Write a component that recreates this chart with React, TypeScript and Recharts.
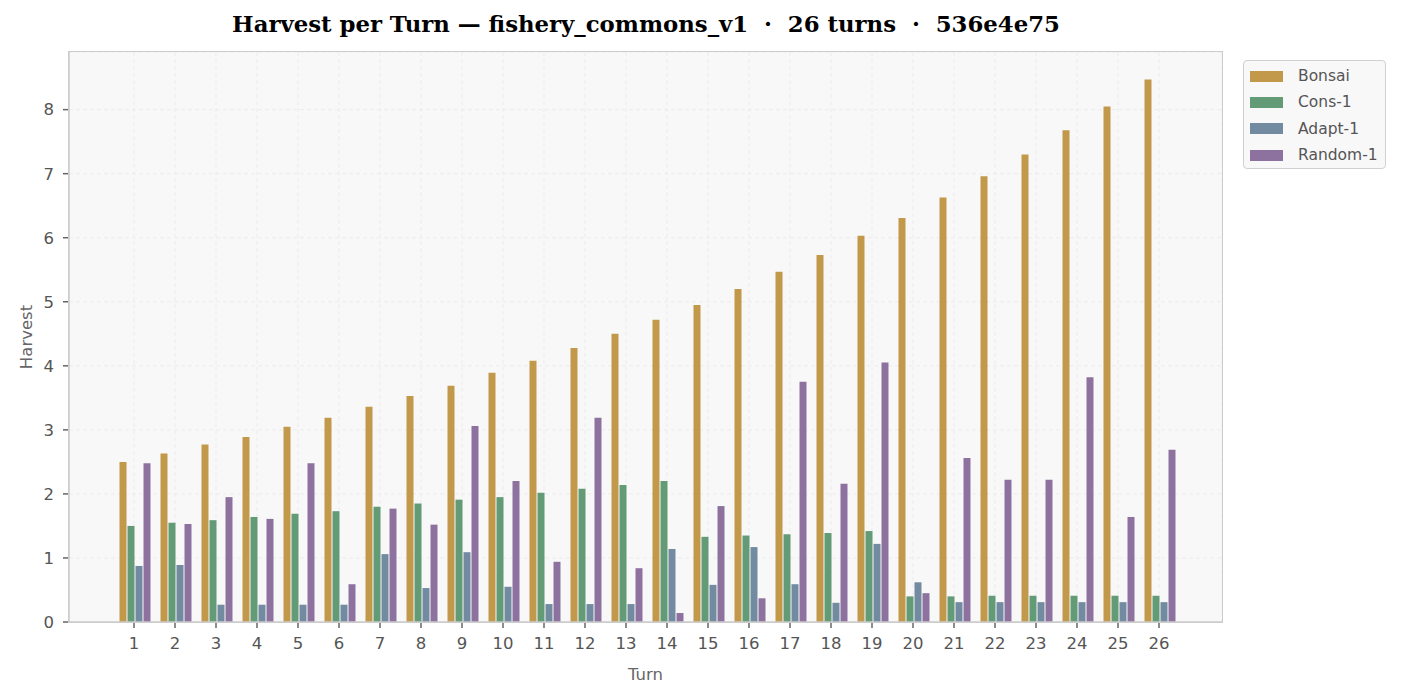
import { BarChart, Bar, XAxis, YAxis, CartesianGrid } from "recharts";

const turns = Array.from({ length: 26 }, (_, i) => String(i + 1));

const bonsai = [
  2.5, 2.63, 2.77, 2.89, 3.05, 3.19, 3.36, 3.53, 3.69, 3.89, 4.08, 4.28, 4.5,
  4.72, 4.95, 5.2, 5.47, 5.73, 6.03, 6.31, 6.63, 6.96, 7.3, 7.68, 8.05, 8.47,
];
const cons1 = [
  1.5, 1.55, 1.59, 1.64, 1.69, 1.73, 1.8, 1.85, 1.91, 1.95, 2.02, 2.08, 2.14,
  2.2, 1.33, 1.35, 1.37, 1.39, 1.42, 0.4, 0.4, 0.41, 0.41, 0.41, 0.41, 0.41,
];
const adapt1 = [
  0.875, 0.89, 0.27, 0.27, 0.27, 0.27, 1.06, 0.53, 1.09, 0.55, 0.28, 0.28, 0.28,
  1.14, 0.58, 1.17, 0.59, 0.3, 1.22, 0.62, 0.31, 0.31, 0.31, 0.31, 0.31, 0.31,
];
const random1 = [
  2.48, 1.53, 1.95, 1.61, 2.48, 0.59, 1.77, 1.52, 3.06, 2.2, 0.94, 3.19, 0.84,
  0.14, 1.81, 0.37, 3.75, 2.16, 4.05, 0.45, 2.56, 2.22, 2.22, 3.82, 1.64, 2.69,
];

const yTicks = [0, 1, 2, 3, 4, 5, 6, 7, 8];

const series = [
  { key: "bonsai", name: "Bonsai", color: "#C2984A" },
  { key: "cons1", name: "Cons-1", color: "#639B77" },
  { key: "adapt1", name: "Adapt-1", color: "#728BA0" },
  { key: "random1", name: "Random-1", color: "#8D72A0" },
];

const data = turns.map((t, i) => ({
  turn: t,
  bonsai: bonsai[i],
  cons1: cons1[i],
  adapt1: adapt1[i],
  random1: random1[i],
}));

const sans = "'DejaVu Sans', sans-serif";

function YLabel({ viewBox }: any) {
  const cx = 32;
  const cy = viewBox.y + viewBox.height / 2;
  return (
    <text
      x={cx}
      y={cy}
      transform={`rotate(-90 ${cx} ${cy})`}
      textAnchor="middle"
      fill="#666"
      fontSize={16.5}
      fontFamily={sans}
    >
      Harvest
    </text>
  );
}

export default function App() {
  return (
    <div
      style={{
        position: "absolute",
        left: 0,
        top: 0,
        width: 1403,
        height: 698,
        background: "#fff",
        fontFamily: sans,
      }}
    >
      <div
        style={{
          position: "absolute",
          top: 10,
          left: 0,
          width: 1292,
          textAlign: "center",
          fontFamily: "'DejaVu Serif', serif",
          fontWeight: "bold",
          fontSize: 22.8,
          lineHeight: "28px",
          color: "#000",
          whiteSpace: "pre",
        }}
      >
        {"Harvest per Turn — fishery_commons_v1  ·  26 turns  ·  536e4e75"}
      </div>

      <BarChart
        width={1403}
        height={698}
        data={data}
        margin={{ top: 52, right: 181, bottom: 0, left: 0 }}
        barCategoryGap={6}
        barGap={1}
      >
        <CartesianGrid
          fill="#f8f8f8"
          stroke="#ececec"
          strokeDasharray="4 3"
        />
        <XAxis
          dataKey="turn"
          height={76}
          padding={{ left: 44.5, right: 42.5 }}
          axisLine={{ stroke: "#cccccc", strokeWidth: 1.5 }}
          tickLine={{ stroke: "#666", strokeWidth: 1.5 }}
          tickSize={6}
          tickMargin={9}
          interval={0}
          tick={{ fill: "#555", fontSize: 16.5, fontFamily: sans }}
          label={{
            value: "Turn",
            position: "insideBottom",
            offset: 18,
            fill: "#666",
            fontSize: 16.5,
            fontFamily: sans,
          }}
        />
        <YAxis
          width={69}
          domain={[0, 8.9]}
          ticks={yTicks}
          axisLine={{ stroke: "#cccccc", strokeWidth: 1.5 }}
          tickLine={{ stroke: "#666", strokeWidth: 1.5 }}
          tickSize={6}
          tickMargin={9}
          tick={{ fill: "#555", fontSize: 16.5, fontFamily: sans }}
          label={<YLabel />}
        />
        {series.map((s) => (
          <Bar
            key={s.key}
            dataKey={s.key}
            name={s.name}
            fill={s.color}
            isAnimationActive={false}
          />
        ))}
      </BarChart>

      {/* plot frame */}
      <div
        style={{
          position: "absolute",
          left: 68,
          top: 51,
          width: 1153,
          height: 570,
          border: "1.5px solid #cccccc",
          pointerEvents: "none",
        }}
      />

      {/* legend */}
      <div
        style={{
          position: "absolute",
          left: 1243,
          top: 60,
          width: 141,
          height: 107,
          border: "1.5px solid #d0d0d0",
          borderRadius: 4,
          background: "#f8f8f8",
        }}
      >
        {series.map((s, i) => (
          <div
            key={s.key}
            style={{
              position: "absolute",
              left: 6,
              top: 15 + i * 26.4 - 10,
              height: 20,
              display: "flex",
              alignItems: "center",
              whiteSpace: "nowrap",
            }}
          >
            <span
              style={{
                display: "inline-block",
                width: 33,
                height: 11,
                background: s.color,
              }}
            />
            <span
              style={{
                marginLeft: 15,
                color: "#555",
                fontSize: 15.5,
                fontFamily: sans,
              }}
            >
              {s.name}
            </span>
          </div>
        ))}
      </div>
    </div>
  );
}
